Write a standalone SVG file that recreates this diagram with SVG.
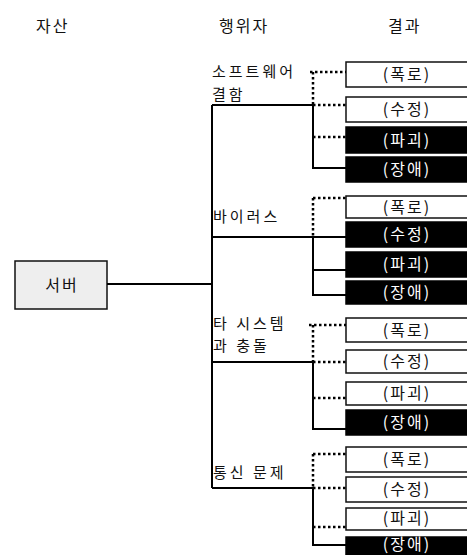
<svg xmlns="http://www.w3.org/2000/svg" width="467" height="555" viewBox="0 0 467 555">
<style>
text{font-family:"Noto Sans CJK KR","Noto Sans",sans-serif;font-size:16px;letter-spacing:2px;fill:#111}
.a{font-size:15px;letter-spacing:3px}
.w rect{fill:#fff;stroke:#111;stroke-width:1.5}
.b rect{fill:#000;stroke:#000;stroke-width:1.5}
.w text,.b text{text-anchor:middle}
.b text{fill:#fff}
.s{stroke:#000;stroke-width:2;fill:none}
.d{stroke:#000;stroke-width:2.5;fill:none;stroke-dasharray:2.5 2.5}
</style>
<rect width="467" height="555" fill="#fff"/>
<g id="headers">
<text x="36" y="32">자산</text>
<text x="219" y="32">행위자</text>
<text x="388" y="32">결과</text>
</g>
<g id="server">
<rect x="15" y="261" width="92" height="48" fill="#eeeeee" stroke="#111" stroke-width="1.5"/>
<text x="62" y="291" text-anchor="middle">서버</text>
</g>
<g id="actor-software">
<text class="a" x="212" y="77">소프트웨어</text>
<text class="a" x="212" y="100">결함</text>
</g>
<g id="actor-virus"><text class="a" x="213" y="222">바이러스</text></g>
<g id="actor-system">
<text class="a" x="213" y="329">타 시스템</text>
<text class="a" x="213" y="351">과 충돌</text>
</g>
<g id="actor-comm"><text class="a" x="213" y="478">통신 문제</text></g>
<g id="r1a" class="w"><rect x="346" y="62" width="125" height="25"/><text x="407" y="80">(폭로)</text></g>
<g id="r1b" class="w"><rect x="346" y="97" width="125" height="25"/><text x="407" y="115">(수정)</text></g>
<g id="r1c" class="b"><rect x="346" y="127" width="125" height="26"/><text x="407" y="146">(파괴)</text></g>
<g id="r1d" class="b"><rect x="346" y="157" width="125" height="25"/><text x="407" y="175">(장애)</text></g>
<g id="r2a" class="w"><rect x="346" y="196" width="125" height="22"/><text x="407" y="213">(폭로)</text></g>
<g id="r2b" class="b"><rect x="346" y="222" width="125" height="25"/><text x="407" y="240">(수정)</text></g>
<g id="r2c" class="b"><rect x="346" y="252" width="125" height="25"/><text x="407" y="270">(파괴)</text></g>
<g id="r2d" class="b"><rect x="346" y="281" width="125" height="23"/><text x="407" y="298">(장애)</text></g>
<g id="r3a" class="w"><rect x="346" y="318" width="125" height="24"/><text x="407" y="336">(폭로)</text></g>
<g id="r3b" class="w"><rect x="346" y="350" width="125" height="23"/><text x="407" y="367">(수정)</text></g>
<g id="r3c" class="w"><rect x="346" y="382" width="125" height="23"/><text x="407" y="399">(파괴)</text></g>
<g id="r3d" class="b"><rect x="346" y="410" width="125" height="25"/><text x="407" y="428">(장애)</text></g>
<g id="r4a" class="w"><rect x="346" y="447" width="125" height="25"/><text x="407" y="465">(폭로)</text></g>
<g id="r4b" class="w"><rect x="346" y="477" width="125" height="25"/><text x="407" y="495">(수정)</text></g>
<g id="r4c" class="w"><rect x="346" y="508" width="125" height="22"/><text x="407" y="524">(파괴)</text></g>
<g id="r4d" class="b"><rect x="346" y="537" width="125" height="25"/><text x="407" y="550">(장애)</text></g>
<g id="connectors">
<path class="s" d="M107 284H212M212 105V488M212 105H313M212 237H313M212 362H313M212 488H313"/>
<path class="s" d="M313 105V168H346M313 237H346M313 237V295H346M313 270H346M313 362V429H346M313 488V545H346"/>
<path class="d" d="M310 72H346M313 72V105M313 105H346M313 137H346"/>
<path class="d" d="M313 198H346M313 198V237"/>
<path class="d" d="M309 325H346M313 325V362M313 362H346M313 398H346"/>
<path class="d" d="M313 454H346M313 454V488M313 488H346M313 527H346"/>
</g>
</svg>
